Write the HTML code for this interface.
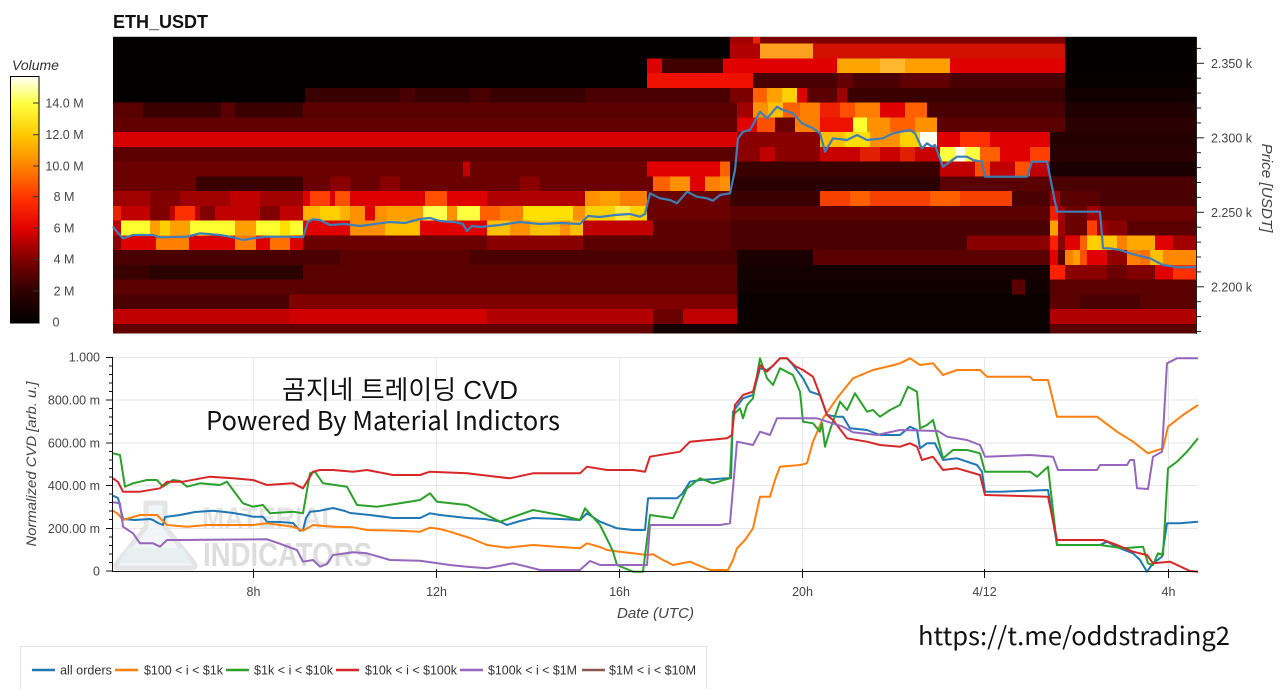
<!DOCTYPE html>
<html><head><meta charset="utf-8"><style>
html,body{margin:0;padding:0;background:#fff;}
svg{display:block;}
.t{font-family:"Liberation Sans",Arial,sans-serif;fill:#444;font-size:12.5px;}
.i{font-style:italic;}
</style></head><body>
<svg width="1280" height="689" viewBox="0 0 1280 689" xmlns="http://www.w3.org/2000/svg">
<defs>
<linearGradient id="cb" x1="0" y1="1" x2="0" y2="0">
<stop offset="0" stop-color="#000"/><stop offset="0.13" stop-color="#300000"/><stop offset="0.26" stop-color="#800000"/><stop offset="0.38" stop-color="#e00000"/><stop offset="0.5" stop-color="#ff3000"/><stop offset="0.63" stop-color="#ff8000"/><stop offset="0.76" stop-color="#ffc800"/><stop offset="0.89" stop-color="#ffff40"/><stop offset="1" stop-color="#fffff8"/>
</linearGradient>
</defs>
<rect width="1280" height="689" fill="#fff"/>
<text x="113" y="28" style="font-family:'Liberation Sans',Arial,sans-serif;font-weight:bold;font-size:18px;fill:#111">ETH_USDT</text>

<!-- colorbar -->
<text x="12" y="70" class="t i" style="font-size:14px;fill:#333">Volume</text>
<rect x="10.5" y="76.5" width="28.5" height="246.5" fill="url(#cb)" stroke="#000" stroke-width="1"/>
<g stroke="#333" stroke-width="1">
<line x1="33" y1="103" x2="39" y2="103"/><line x1="33" y1="134.7" x2="39" y2="134.7"/><line x1="33" y1="166" x2="39" y2="166"/><line x1="33" y1="196.7" x2="39" y2="196.7"/><line x1="33" y1="228" x2="39" y2="228"/><line x1="33" y1="259.3" x2="39" y2="259.3"/><line x1="33" y1="291" x2="39" y2="291"/>
</g>
<g class="t" text-anchor="middle">
<text x="64.5" y="107.5">14.0 M</text><text x="64.5" y="139">12.0 M</text><text x="64.5" y="170.5">10.0 M</text><text x="64" y="201">8 M</text><text x="64" y="232.5">6 M</text><text x="64" y="263.5">4 M</text><text x="64" y="295.5">2 M</text><text x="56" y="326.5">0</text>
</g>

<!-- heatmap -->
<g shape-rendering="crispEdges">
<rect x="113" y="37" width="1083" height="296.5" fill="#4a0000"/>
<rect x="113" y="37" width="617" height="7" fill="#050000"/><rect x="730" y="37" width="23" height="7" fill="#a00000"/><rect x="753" y="37" width="7" height="7" fill="#ee2000"/><rect x="760" y="37" width="305" height="7" fill="#7a0000"/><rect x="1065" y="37" width="131" height="7" fill="#050000"/>
<rect x="113" y="43.7" width="617" height="15.2" fill="#050000"/><rect x="730" y="43.7" width="30" height="15.2" fill="#b00000"/><rect x="760" y="43.7" width="53" height="15.2" fill="#ffa020"/><rect x="813" y="43.7" width="252" height="15.2" fill="#d01000"/><rect x="1065" y="43.7" width="131" height="15.2" fill="#050000"/>
<rect x="113" y="58.5" width="534" height="15.1" fill="#050000"/><rect x="647" y="58.5" width="15" height="15.1" fill="#dd0000"/><rect x="662" y="58.5" width="61" height="15.1" fill="#400000"/><rect x="723" y="58.5" width="114" height="15.1" fill="#e00000"/><rect x="837" y="58.5" width="43" height="15.1" fill="#ffa500"/><rect x="880" y="58.5" width="25" height="15.1" fill="#ffb830"/><rect x="905" y="58.5" width="45" height="15.1" fill="#ffa000"/><rect x="950" y="58.5" width="115" height="15.1" fill="#e00000"/><rect x="1065" y="58.5" width="131" height="15.1" fill="#050000"/>
<rect x="113" y="73.2" width="534" height="15.2" fill="#050000"/><rect x="647" y="73.2" width="106" height="15.2" fill="#f01000"/><rect x="753" y="73.2" width="84" height="15.2" fill="#4a0000"/><rect x="837" y="73.2" width="16" height="15.2" fill="#650000"/><rect x="853" y="73.2" width="47" height="15.2" fill="#4a0000"/><rect x="900" y="73.2" width="50" height="15.2" fill="#600000"/><rect x="950" y="73.2" width="115" height="15.2" fill="#4a0000"/><rect x="1065" y="73.2" width="131" height="15.2" fill="#080000"/>
<rect x="113" y="88" width="192" height="15.1" fill="#050000"/><rect x="305" y="88" width="280" height="15.1" fill="#380000"/><rect x="400" y="88" width="15" height="15.1" fill="#4a0000"/><rect x="470" y="88" width="20" height="15.1" fill="#4a0000"/><rect x="585" y="88" width="145" height="15.1" fill="#4a0000"/><rect x="730" y="88" width="23" height="15.1" fill="#7a0000"/><rect x="753" y="88" width="14" height="15.1" fill="#ff6000"/><rect x="767" y="88" width="15" height="15.1" fill="#ffa000"/><rect x="782" y="88" width="15" height="15.1" fill="#ffd000"/><rect x="797" y="88" width="10" height="15.1" fill="#e00000"/><rect x="807" y="88" width="30" height="15.1" fill="#5a0000"/><rect x="837" y="88" width="10" height="15.1" fill="#a00000"/><rect x="847" y="88" width="218" height="15.1" fill="#3a0000"/><rect x="1065" y="88" width="131" height="15.1" fill="#120000"/>
<rect x="113" y="102.7" width="30" height="15.2" fill="#5a0000"/><rect x="143" y="102.7" width="78" height="15.2" fill="#3a0000"/><rect x="221" y="102.7" width="14" height="15.2" fill="#5a0000"/><rect x="235" y="102.7" width="68" height="15.2" fill="#3a0000"/><rect x="303" y="102.7" width="434" height="15.2" fill="#5a0000"/><rect x="737" y="102.7" width="16" height="15.2" fill="#a00000"/><rect x="753" y="102.7" width="15" height="15.2" fill="#ff9000"/><rect x="768" y="102.7" width="15" height="15.2" fill="#ffc000"/><rect x="783" y="102.7" width="17" height="15.2" fill="#ff6000"/><rect x="800" y="102.7" width="20" height="15.2" fill="#ff8000"/><rect x="820" y="102.7" width="20" height="15.2" fill="#ee2000"/><rect x="840" y="102.7" width="15" height="15.2" fill="#ff5000"/><rect x="855" y="102.7" width="25" height="15.2" fill="#ff8000"/><rect x="880" y="102.7" width="25" height="15.2" fill="#e00000"/><rect x="905" y="102.7" width="22" height="15.2" fill="#ff6000"/><rect x="927" y="102.7" width="138" height="15.2" fill="#4a0000"/><rect x="1065" y="102.7" width="131" height="15.2" fill="#200000"/>
<rect x="113" y="117.5" width="624" height="15.1" fill="#600000"/><rect x="737" y="117.5" width="20" height="15.1" fill="#e00000"/><rect x="757" y="117.5" width="18" height="15.1" fill="#ff5000"/><rect x="775" y="117.5" width="20" height="15.1" fill="#6a0000"/><rect x="795" y="117.5" width="25" height="15.1" fill="#ff8000"/><rect x="820" y="117.5" width="33" height="15.1" fill="#ee1000"/><rect x="853" y="117.5" width="14" height="15.1" fill="#ffff30"/><rect x="867" y="117.5" width="23" height="15.1" fill="#ff9000"/><rect x="890" y="117.5" width="25" height="15.1" fill="#ff6000"/><rect x="915" y="117.5" width="22" height="15.1" fill="#ff9000"/><rect x="937" y="117.5" width="128" height="15.1" fill="#5a0000"/><rect x="1065" y="117.5" width="131" height="15.1" fill="#2a0000"/>
<rect x="113" y="132.2" width="624" height="15.2" fill="#d80000"/><rect x="737" y="132.2" width="83" height="15.2" fill="#8a0000"/><rect x="820" y="132.2" width="25" height="15.2" fill="#ffc000"/><rect x="845" y="132.2" width="25" height="15.2" fill="#ffe000"/><rect x="870" y="132.2" width="30" height="15.2" fill="#ff9000"/><rect x="900" y="132.2" width="20" height="15.2" fill="#ffd000"/><rect x="920" y="132.2" width="17" height="15.2" fill="#fffff0"/><rect x="937" y="132.2" width="23" height="15.2" fill="#e00000"/><rect x="960" y="132.2" width="30" height="15.2" fill="#ff3000"/><rect x="990" y="132.2" width="60" height="15.2" fill="#e00000"/><rect x="1050" y="132.2" width="146" height="15.2" fill="#250000"/>
<rect x="113" y="147" width="624" height="15.1" fill="#5a0000"/><rect x="737" y="147" width="83" height="15.1" fill="#8a0000"/><rect x="760" y="147" width="15" height="15.1" fill="#c00000"/><rect x="820" y="147" width="120" height="15.1" fill="#c80000"/><rect x="860" y="147" width="20" height="15.1" fill="#e02000"/><rect x="900" y="147" width="15" height="15.1" fill="#e02000"/><rect x="940" y="147" width="15" height="15.1" fill="#ffff40"/><rect x="955" y="147" width="10" height="15.1" fill="#fffff0"/><rect x="965" y="147" width="15" height="15.1" fill="#ffff40"/><rect x="980" y="147" width="20" height="15.1" fill="#ff6000"/><rect x="1000" y="147" width="30" height="15.1" fill="#e00000"/><rect x="1030" y="147" width="20" height="15.1" fill="#ff4000"/><rect x="1050" y="147" width="146" height="15.1" fill="#2a0000"/>
<rect x="113" y="161.7" width="534" height="15.2" fill="#6a0000"/><rect x="463" y="161.7" width="7" height="15.2" fill="#c00000"/><rect x="647" y="161.7" width="73" height="15.2" fill="#e00000"/><rect x="720" y="161.7" width="10" height="15.2" fill="#ff6000"/><rect x="730" y="161.7" width="210" height="15.2" fill="#3a0000"/><rect x="940" y="161.7" width="110" height="15.2" fill="#c00000"/><rect x="975" y="161.7" width="15" height="15.2" fill="#ff5000"/><rect x="1015" y="161.7" width="15" height="15.2" fill="#ff5000"/><rect x="1050" y="161.7" width="146" height="15.2" fill="#1a0000"/>
<rect x="113" y="176.5" width="83" height="15.1" fill="#6a0000"/><rect x="196" y="176.5" width="107" height="15.1" fill="#3a0000"/><rect x="303" y="176.5" width="350" height="15.1" fill="#6a0000"/><rect x="330" y="176.5" width="20" height="15.1" fill="#8a0000"/><rect x="380" y="176.5" width="20" height="15.1" fill="#8a0000"/><rect x="520" y="176.5" width="20" height="15.1" fill="#8a0000"/><rect x="653" y="176.5" width="17" height="15.1" fill="#ff6000"/><rect x="670" y="176.5" width="20" height="15.1" fill="#ff9000"/><rect x="690" y="176.5" width="15" height="15.1" fill="#e00000"/><rect x="705" y="176.5" width="15" height="15.1" fill="#ff8000"/><rect x="720" y="176.5" width="10" height="15.1" fill="#ff9000"/><rect x="730" y="176.5" width="210" height="15.1" fill="#2a0000"/><rect x="940" y="176.5" width="110" height="15.1" fill="#5a0000"/><rect x="1050" y="176.5" width="146" height="15.1" fill="#4a0000"/>
<!-- R11 -->
<rect x="113" y="191.2" width="190" height="15.2" fill="#a00000"/><rect x="150" y="191.2" width="30" height="15.2" fill="#800000"/><rect x="230" y="191.2" width="30" height="15.2" fill="#c00000"/><rect x="303" y="191.2" width="122" height="15.2" fill="#dd0000"/><rect x="310" y="191.2" width="20" height="15.2" fill="#ff4000"/><rect x="335" y="191.2" width="15" height="15.2" fill="#ff5000"/><rect x="425" y="191.2" width="22" height="15.2" fill="#ff5000"/><rect x="447" y="191.2" width="40" height="15.2" fill="#e00000"/><rect x="487" y="191.2" width="98" height="15.2" fill="#b00000"/><rect x="585" y="191.2" width="15" height="15.2" fill="#ff9000"/><rect x="600" y="191.2" width="20" height="15.2" fill="#ffa000"/><rect x="620" y="191.2" width="27" height="15.2" fill="#ff8000"/><rect x="647" y="191.2" width="83" height="15.2" fill="#6a0000"/><rect x="730" y="191.2" width="90" height="15.2" fill="#3a0000"/><rect x="820" y="191.2" width="192" height="15.2" fill="#f54000"/><rect x="850" y="191.2" width="20" height="15.2" fill="#ff6000"/><rect x="930" y="191.2" width="30" height="15.2" fill="#ff6000"/><rect x="1012" y="191.2" width="38" height="15.2" fill="#4a0000"/><rect x="1050" y="191.2" width="10" height="15.2" fill="#a00000"/><rect x="1060" y="191.2" width="40" height="15.2" fill="#5a0000"/><rect x="1100" y="191.2" width="96" height="15.2" fill="#4a0000"/>
<!-- R12 -->
<rect x="113" y="206" width="8" height="15.1" fill="#ee2000"/><rect x="121" y="206" width="182" height="15.1" fill="#c00000"/><rect x="150" y="206" width="20" height="15.1" fill="#800000"/><rect x="175" y="206" width="20" height="15.1" fill="#ff3000"/><rect x="200" y="206" width="15" height="15.1" fill="#800000"/><rect x="260" y="206" width="20" height="15.1" fill="#800000"/><rect x="303" y="206" width="17" height="15.1" fill="#ffb000"/><rect x="320" y="206" width="20" height="15.1" fill="#ffd000"/><rect x="340" y="206" width="10" height="15.1" fill="#ffb000"/><rect x="350" y="206" width="37" height="15.1" fill="#ff9000"/><rect x="365" y="206" width="10" height="15.1" fill="#e00000"/><rect x="387" y="206" width="36" height="15.1" fill="#ffa000"/><rect x="423" y="206" width="24" height="15.1" fill="#ffff50"/><rect x="447" y="206" width="10" height="15.1" fill="#ff9000"/><rect x="457" y="206" width="23" height="15.1" fill="#ffff40"/><rect x="480" y="206" width="20" height="15.1" fill="#ff6000"/><rect x="500" y="206" width="23" height="15.1" fill="#ff8000"/><rect x="523" y="206" width="50" height="15.1" fill="#ffe000"/><rect x="573" y="206" width="12" height="15.1" fill="#ff9000"/><rect x="585" y="206" width="62" height="15.1" fill="#ffd000"/><rect x="615" y="206" width="15" height="15.1" fill="#ffe840"/><rect x="647" y="206" width="83" height="15.1" fill="#6a0000"/><rect x="730" y="206" width="320" height="15.1" fill="#5a0000"/><rect x="1050" y="206" width="8" height="15.1" fill="#ee2000"/><rect x="1058" y="206" width="7" height="15.1" fill="#a00000"/><rect x="1065" y="206" width="22" height="15.1" fill="#6a0000"/><rect x="1087" y="206" width="13" height="15.1" fill="#a00000"/><rect x="1100" y="206" width="96" height="15.1" fill="#700000"/>
<!-- R13 -->
<rect x="113" y="220.7" width="8" height="15.2" fill="#c00000"/><rect x="121" y="220.7" width="29" height="15.2" fill="#ffff30"/><rect x="150" y="220.7" width="40" height="15.2" fill="#ffa000"/><rect x="160" y="220.7" width="10" height="15.2" fill="#ffd000"/><rect x="190" y="220.7" width="45" height="15.2" fill="#ffff30"/><rect x="235" y="220.7" width="21" height="15.2" fill="#ffa000"/><rect x="256" y="220.7" width="47" height="15.2" fill="#ffff30"/><rect x="280" y="220.7" width="10" height="15.2" fill="#ffe000"/><rect x="303" y="220.7" width="47" height="15.2" fill="#e00000"/><rect x="350" y="220.7" width="35" height="15.2" fill="#ff9000"/><rect x="385" y="220.7" width="35" height="15.2" fill="#ffc000"/><rect x="420" y="220.7" width="67" height="15.2" fill="#e00000"/><rect x="487" y="220.7" width="96" height="15.2" fill="#ffc000"/><rect x="510" y="220.7" width="20" height="15.2" fill="#ff9000"/><rect x="560" y="220.7" width="10" height="15.2" fill="#ff9000"/><rect x="583" y="220.7" width="70" height="15.2" fill="#c00000"/><rect x="653" y="220.7" width="77" height="15.2" fill="#5a0000"/><rect x="730" y="220.7" width="320" height="15.2" fill="#4a0000"/><rect x="1050" y="220.7" width="8" height="15.2" fill="#ffa000"/><rect x="1058" y="220.7" width="7" height="15.2" fill="#a00000"/><rect x="1065" y="220.7" width="22" height="15.2" fill="#6a0000"/><rect x="1087" y="220.7" width="10" height="15.2" fill="#ff4000"/><rect x="1097" y="220.7" width="10" height="15.2" fill="#a00000"/><rect x="1107" y="220.7" width="20" height="15.2" fill="#8a0000"/><rect x="1127" y="220.7" width="69" height="15.2" fill="#5a0000"/>
<!-- R14 -->
<rect x="113" y="235.5" width="8" height="15.1" fill="#8a0000"/><rect x="121" y="235.5" width="35" height="15.1" fill="#dd0000"/><rect x="156" y="235.5" width="33" height="15.1" fill="#ff8000"/><rect x="189" y="235.5" width="46" height="15.1" fill="#dd0000"/><rect x="235" y="235.5" width="21" height="15.1" fill="#ff8000"/><rect x="256" y="235.5" width="14" height="15.1" fill="#dd0000"/><rect x="270" y="235.5" width="20" height="15.1" fill="#ff7000"/><rect x="290" y="235.5" width="13" height="15.1" fill="#dd0000"/><rect x="303" y="235.5" width="184" height="15.1" fill="#6a0000"/><rect x="487" y="235.5" width="96" height="15.1" fill="#8a0000"/><rect x="583" y="235.5" width="147" height="15.1" fill="#5a0000"/><rect x="730" y="235.5" width="237" height="15.1" fill="#4a0000"/><rect x="967" y="235.5" width="83" height="15.1" fill="#8a0000"/><rect x="1050" y="235.5" width="8" height="15.1" fill="#ff2000"/><rect x="1058" y="235.5" width="7" height="15.1" fill="#8a0000"/><rect x="1065" y="235.5" width="15" height="15.1" fill="#e00000"/><rect x="1080" y="235.5" width="7" height="15.1" fill="#ff6000"/><rect x="1087" y="235.5" width="13" height="15.1" fill="#ffd000"/><rect x="1100" y="235.5" width="17" height="15.1" fill="#ffc800"/><rect x="1117" y="235.5" width="10" height="15.1" fill="#ff8000"/><rect x="1127" y="235.5" width="28" height="15.1" fill="#ffa800"/><rect x="1155" y="235.5" width="18" height="15.1" fill="#e00000"/><rect x="1173" y="235.5" width="23" height="15.1" fill="#a00000"/>
<!-- R15 -->
<rect x="113" y="250.2" width="624" height="15.2" fill="#4a0000"/><rect x="340" y="250.2" width="130" height="15.2" fill="#5a0000"/><rect x="737" y="250.2" width="76" height="15.2" fill="#1a0000"/><rect x="813" y="250.2" width="237" height="15.2" fill="#5a0000"/><rect x="1050" y="250.2" width="8" height="15.2" fill="#e00000"/><rect x="1058" y="250.2" width="7" height="15.2" fill="#5a0000"/><rect x="1065" y="250.2" width="8" height="15.2" fill="#ff8000"/><rect x="1073" y="250.2" width="7" height="15.2" fill="#ffa000"/><rect x="1080" y="250.2" width="7" height="15.2" fill="#ff5000"/><rect x="1087" y="250.2" width="20" height="15.2" fill="#e00000"/><rect x="1107" y="250.2" width="20" height="15.2" fill="#900000"/><rect x="1127" y="250.2" width="13" height="15.2" fill="#ff8000"/><rect x="1140" y="250.2" width="10" height="15.2" fill="#ff7000"/><rect x="1150" y="250.2" width="13" height="15.2" fill="#ffc000"/><rect x="1163" y="250.2" width="33" height="15.2" fill="#ff8800"/>
<!-- R16 -->
<rect x="113" y="265" width="37" height="15.1" fill="#3a0000"/><rect x="150" y="265" width="153" height="15.1" fill="#2a0000"/><rect x="303" y="265" width="434" height="15.1" fill="#5a0000"/><rect x="737" y="265" width="313" height="15.1" fill="#150000"/><rect x="1050" y="265" width="15" height="15.1" fill="#ff2000"/><rect x="1065" y="265" width="42" height="15.1" fill="#8a0000"/><rect x="1107" y="265" width="20" height="15.1" fill="#6a0000"/><rect x="1127" y="265" width="28" height="15.1" fill="#800000"/><rect x="1155" y="265" width="18" height="15.1" fill="#e00000"/><rect x="1173" y="265" width="23" height="15.1" fill="#ff3000"/>
<!-- R17 -->
<rect x="113" y="279.7" width="624" height="15.2" fill="#5a0000"/><rect x="737" y="279.7" width="275" height="15.2" fill="#100000"/><rect x="1012" y="279.7" width="13" height="15.2" fill="#5a0000"/><rect x="1025" y="279.7" width="25" height="15.2" fill="#100000"/><rect x="1050" y="279.7" width="146" height="15.2" fill="#5a0000"/>
<!-- R18 -->
<rect x="113" y="294.5" width="176" height="15.1" fill="#4a0000"/><rect x="289" y="294.5" width="448" height="15.1" fill="#800000"/><rect x="737" y="294.5" width="313" height="15.1" fill="#0a0000"/><rect x="1050" y="294.5" width="146" height="15.1" fill="#5a0000"/><rect x="1080" y="294.5" width="60" height="15.1" fill="#4a0000"/>
<!-- R19 -->
<rect x="113" y="309.2" width="176" height="15.2" fill="#c00000"/><rect x="289" y="309.2" width="198" height="15.2" fill="#d00000"/><rect x="487" y="309.2" width="166" height="15.2" fill="#b00000"/><rect x="653" y="309.2" width="30" height="15.2" fill="#6a0000"/><rect x="683" y="309.2" width="54" height="15.2" fill="#c00000"/><rect x="737" y="309.2" width="313" height="15.2" fill="#0a0000"/><rect x="1050" y="309.2" width="146" height="15.2" fill="#b00000"/>
<!-- R20 -->
<rect x="113" y="324" width="540" height="9.5" fill="#600000"/><rect x="653" y="324" width="84" height="9.5" fill="#150000"/><rect x="737" y="324" width="313" height="9.5" fill="#0a0000"/><rect x="1050" y="324" width="146" height="9.5" fill="#5a0000"/>
</g>
<line x1="113" y1="36.5" x2="1196" y2="36.5" stroke="#ccc" stroke-width="1"/>
<polyline fill="none" stroke="#3f7fb8" stroke-width="2.2" stroke-linejoin="round" points="113,226.7 118,233 123,238.3 133,235 153,235 160,237.3 187,236.7 200,233.3 220,235 233,237.3 243,240 255,238 267,236.7 287,236.7 303,237.3 308,221.7 313,219.3 320,220 330,225 345,224 360,226 375,224 390,222 405,223 420,219 430,218 440,221 455,222 463,224 467,231 472,226 480,227 500,225 520,222 540,224 560,223 580,224 588,216 600,217 615,215 630,214 640,216.7 645,214 650,193.3 660,198.3 670,200 677,203.3 687,191.7 697,196.7 707,198.3 713,200.7 720,195 730,193.3 735,170 738,138.3 743,131.7 750,130 760,111.7 767,118.3 777,106.7 783,110 793,113.3 802,123.3 813,128.3 820,133.3 825,151.7 833,138.3 847,140 857,135 867,140 883,138.3 893,133.3 910,130 915,133.3 922,148.3 927,143.3 932,146.7 935,145 943,166.7 950,161.7 957,156.7 967,156.7 973,160 982,161.7 985,176.7 1027,176.7 1032,161.7 1047,161.7 1057,211.7 1100,211.7 1103,248.3 1110,248.3 1120,250 1130,253.3 1140,256 1150,258.3 1157,262 1163,265 1170,266 1177,267.3 1196,267.3"/>

<!-- right price axis -->
<line x1="1196.5" y1="37" x2="1196.5" y2="334" stroke="#222" stroke-width="1"/>
<g stroke="#222" stroke-width="1">
<line x1="1196" y1="48.4" x2="1201" y2="48.4"/><line x1="1196" y1="63.3" x2="1204" y2="63.3"/><line x1="1196" y1="78.2" x2="1201" y2="78.2"/><line x1="1196" y1="93.1" x2="1201" y2="93.1"/><line x1="1196" y1="108" x2="1201" y2="108"/><line x1="1196" y1="122.9" x2="1201" y2="122.9"/><line x1="1196" y1="137.8" x2="1204" y2="137.8"/><line x1="1196" y1="152.7" x2="1201" y2="152.7"/><line x1="1196" y1="167.6" x2="1201" y2="167.6"/><line x1="1196" y1="182.5" x2="1201" y2="182.5"/><line x1="1196" y1="197.4" x2="1201" y2="197.4"/><line x1="1196" y1="212.3" x2="1204" y2="212.3"/><line x1="1196" y1="227.2" x2="1201" y2="227.2"/><line x1="1196" y1="242.1" x2="1201" y2="242.1"/><line x1="1196" y1="257" x2="1201" y2="257"/><line x1="1196" y1="271.9" x2="1201" y2="271.9"/><line x1="1196" y1="286.8" x2="1204" y2="286.8"/><line x1="1196" y1="301.7" x2="1201" y2="301.7"/><line x1="1196" y1="316.6" x2="1201" y2="316.6"/><line x1="1196" y1="331.5" x2="1201" y2="331.5"/>
</g>
<g class="t">
<text x="1211" y="67.8">2.350 k</text><text x="1211" y="142.3">2.300 k</text><text x="1211" y="216.8">2.250 k</text><text x="1211" y="291.3">2.200 k</text>
</g>
<text class="t i" transform="translate(1262,188) rotate(90)" text-anchor="middle" style="font-size:15px" textLength="89" lengthAdjust="spacingAndGlyphs">Price [USDT]</text>

<!-- CVD chart grid -->
<g stroke="#e6e6e6" stroke-width="1">
<line x1="113" y1="357.5" x2="1198" y2="357.5"/><line x1="113" y1="400" x2="1198" y2="400"/><line x1="113" y1="443" x2="1198" y2="443"/><line x1="113" y1="485.5" x2="1198" y2="485.5"/><line x1="113" y1="528.5" x2="1198" y2="528.5"/>
<line x1="253.5" y1="357" x2="253.5" y2="571"/><line x1="436.5" y1="357" x2="436.5" y2="571"/><line x1="619.5" y1="357" x2="619.5" y2="571"/><line x1="802.5" y1="357" x2="802.5" y2="571"/><line x1="984.5" y1="357" x2="984.5" y2="571"/><line x1="1168.5" y1="357" x2="1168.5" y2="571"/>
</g>

<!-- watermark -->
<g opacity="0.9">
<path d="M146,503 L165,503 L165,527 L194,563 Q197,568 191,568 L120,568 Q114,568 117,563 L146,527 Z" fill="#f1f4f4" stroke="#e3e3e3" stroke-width="5" stroke-linejoin="round"/>
<path d="M128,548 L183,548 L192,563 L119,563 Z" fill="#e5eeee"/>
<text x="202" y="528" style="font-family:'Liberation Sans',Arial,sans-serif;font-weight:bold;font-size:30px;fill:#e2e2e2" textLength="136" lengthAdjust="spacingAndGlyphs">MATERIAL</text>
<text x="203" y="566" style="font-family:'Liberation Sans',Arial,sans-serif;font-weight:bold;font-size:33px;fill:#dadada" textLength="169" lengthAdjust="spacingAndGlyphs">INDICATORS</text>
</g>

<!-- overlay text -->
<text x="282" y="399" style="font-family:'Liberation Sans','Noto Sans CJK KR',sans-serif;font-size:26px;fill:#111" textLength="236" lengthAdjust="spacingAndGlyphs">곰지네 트레이딩 CVD</text>
<text x="206" y="430" style="font-family:'Noto Sans CJK KR','Liberation Sans',sans-serif;font-size:26px;fill:#111" textLength="354" lengthAdjust="spacingAndGlyphs">Powered By Material Indictors</text>

<!-- CVD lines -->
<g fill="none" stroke-width="2" stroke-linejoin="round">
<polyline stroke="#1f77b4" points="113,495.7 118,498 123,519 135,520 150,519 153,520 158,523 163,525 165,517 180,515 195,512 213,510.7 225,512 233,513 245,515 253,516.7 263,516.7 267,521.7 280,522 293,523 300,530.7 303,530 306,518 310,511.7 320,510.7 333,508 345,511 350,513 370,515 393,518 420,518 430,513.3 440,515 467,518 485,519 500,521.7 507,525 520,521 533,518 560,519 580,520 587,513.3 600,521.7 617,528.3 633,530 645,530 648,498.3 677,498.3 682,494 690,481.7 700,480 727,478.3 731,478 733,411.7 738,405 743,398.3 753,395 760,368.3 767,370 773,366 780,358.3 787,358.3 793,365 803,378.3 810,391.7 820,395 827,415 837,416.7 843,416.7 850,428.3 867,430 880,435 900,435 910,426.7 917,430 920,448.3 927,443.3 935,443.3 943,460 957,458.3 977,465 982,471.7 985,491.7 1000,491.7 1048,490 1057,545 1100,545 1107,541.7 1120,548.3 1133,553.3 1140,560 1147,571.7 1153,563.3 1162,556.7 1167,523.3 1180,523.3 1198,521.7"/>
<polyline stroke="#ff7f0e" points="113,510.7 118,514 123,520 140,515 157,515 162,520 167,525 187,526.7 207,525 253,525 267,523.3 293,526.7 303,530.7 313,525 333,526.7 353,527.3 367,530 400,530.7 420,531.7 430,527.7 440,529 450,531.7 470,538 487,545 507,547.7 533,545 560,547 580,548.3 587,543.3 600,547 607,550 620,551.7 647,555 653,554.3 663,560 673,565 690,561.7 700,566 710,570 728,570 733,560 737,548.3 745,540 753,528.3 760,496.7 770,496.7 775,480 780,466.7 800,465 807,463.3 813,441.7 823,418.3 837,398.3 853,378.3 873,370 890,366 900,363.3 910,358.3 920,365 933,363.3 943,375 957,370 980,370 987,376.7 1030,376.7 1033,380 1048,380 1057,416.7 1097,416.7 1117,431.7 1133,441.7 1148,453.3 1155,451 1163,448.3 1168,426.7 1183,415 1198,405"/>
<polyline stroke="#2ca02c" points="113,453.3 120,455 125,486.7 133,483.3 147,480 157,480 163,486.7 173,480 180,481 187,486.7 200,483.3 220,485 227,481.7 233,490 243,503.3 253,506.7 263,505 270,513.3 293,511.7 303,513.3 310,473.3 315,471.7 323,483.3 347,486.7 357,505 377,506.7 400,503.3 420,500 430,493.3 437,501.7 467,505 500,521.7 533,510 560,515 580,520 585,508.3 600,525 610,545 613,551.7 617,565 633,571.7 643,571.7 650,515 673,518.3 687,488.3 700,478.3 713,483.3 730,478.3 733,415 740,408.3 743,418.3 747,405 753,398.3 760,358.3 767,378.3 773,385 780,368.3 793,375 800,391.7 803,421.7 813,423.3 820,431.7 822,423.3 825,446.7 830,430 840,401.7 847,410 855,393.3 867,411.7 873,410 880,416.7 890,410 900,405 908,386.7 917,391.7 920,428.3 927,425 933,420 943,458.3 953,450 967,450 980,453.3 985,471.7 1030,471.7 1037,476.7 1048,466.7 1057,545 1100,545 1123,548.3 1143,546.7 1148,563.3 1153,565 1158,553.3 1163,555 1168,468.3 1177,461.7 1187,451.7 1198,438.3"/>
<polyline stroke="#d62728" points="113,478.3 118,482 123,491.7 140,491.7 160,488.3 167,481.7 183,481.7 210,476.7 233,478.3 253,480 267,485 293,483.3 303,488.3 313,471.7 320,470 333,470 353,471.7 367,470 393,475 420,475 430,471.7 467,473.3 490,476 510,478.3 533,473.3 580,473.3 587,466.7 607,470 633,470 645,471.7 650,456.7 680,451.7 690,441.7 727,438.3 732,435 735,405 743,395 753,391.7 760,365 767,371.7 780,358.3 787,358.3 795,366 803,370 813,376.7 820,395 827,415 833,420 847,438.3 867,441.7 880,445 900,446.7 910,443.3 917,446.7 922,460 933,456.7 943,470 957,468.3 980,475 985,495 1048,496.7 1057,540 1103,540 1117,545 1133,551.7 1147,555 1153,563.3 1170,561.7 1190,571 1198,571.7"/>
<polyline stroke="#9467bd" points="113,502.3 120,503.3 123,526.7 133,533.3 140,543.3 153,543.3 160,546.7 167,540 180,540 267,539.3 277,542.7 297,550 303,561.7 313,560 320,566.7 327,564 333,555 353,552.3 367,553.3 390,560 420,560.7 450,565 467,566.7 487,568.3 513,563.3 527,566.7 540,570 580,570 590,561 600,565 647,565 650,525 720,525 730,523.3 737,441.7 753,445 760,431.7 770,435 777,418.3 817,418.3 843,426.7 853,432.3 877,435 900,430 938,431 947,436.7 967,440 980,445 985,456.7 1030,455 1053,456.7 1058,470 1097,470 1100,465 1127,465 1130,460 1134,460 1137,488.3 1148,489 1153,456.7 1162,451.7 1167,363.3 1177,358.3 1198,358.3"/>
</g>

<!-- CVD axes -->
<line x1="112.5" y1="357" x2="112.5" y2="571.5" stroke="#111" stroke-width="1"/>
<line x1="112" y1="571.5" x2="1198" y2="571.5" stroke="#111" stroke-width="1"/>
<g stroke="#111" stroke-width="1">
<line x1="106" y1="357.5" x2="113" y2="357.5"/><line x1="106" y1="400" x2="113" y2="400"/><line x1="106" y1="443" x2="113" y2="443"/><line x1="106" y1="485.5" x2="113" y2="485.5"/><line x1="106" y1="528.5" x2="113" y2="528.5"/><line x1="106" y1="571" x2="113" y2="571"/>
<line x1="109" y1="366" x2="113" y2="366"/><line x1="109" y1="374.5" x2="113" y2="374.5"/><line x1="109" y1="383" x2="113" y2="383"/><line x1="109" y1="391.5" x2="113" y2="391.5"/>
<line x1="109" y1="408.5" x2="113" y2="408.5"/><line x1="109" y1="417" x2="113" y2="417"/><line x1="109" y1="425.5" x2="113" y2="425.5"/><line x1="109" y1="434" x2="113" y2="434"/>
<line x1="109" y1="451.5" x2="113" y2="451.5"/><line x1="109" y1="460" x2="113" y2="460"/><line x1="109" y1="468.5" x2="113" y2="468.5"/><line x1="109" y1="477" x2="113" y2="477"/>
<line x1="109" y1="494" x2="113" y2="494"/><line x1="109" y1="502.5" x2="113" y2="502.5"/><line x1="109" y1="511" x2="113" y2="511"/><line x1="109" y1="519.5" x2="113" y2="519.5"/>
<line x1="109" y1="537" x2="113" y2="537"/><line x1="109" y1="545.5" x2="113" y2="545.5"/><line x1="109" y1="554" x2="113" y2="554"/><line x1="109" y1="562.5" x2="113" y2="562.5"/>
<line x1="253.5" y1="569" x2="253.5" y2="578"/><line x1="436.5" y1="569" x2="436.5" y2="578"/><line x1="619.5" y1="569" x2="619.5" y2="578"/><line x1="802.5" y1="569" x2="802.5" y2="578"/><line x1="984.5" y1="569" x2="984.5" y2="578"/><line x1="1168.5" y1="569" x2="1168.5" y2="578"/>
</g>
<g class="t" text-anchor="end">
<text x="100" y="361.5">1.000</text><text x="100" y="404.5">800.00 m</text><text x="100" y="447.5">600.00 m</text><text x="100" y="490">400.00 m</text><text x="100" y="533">200.00 m</text><text x="100" y="575.5">0</text>
</g>
<g class="t" text-anchor="middle">
<text x="253.5" y="596">8h</text><text x="436.5" y="596">12h</text><text x="619.5" y="596">16h</text><text x="802.5" y="596">20h</text><text x="984.5" y="596">4/12</text><text x="1168.5" y="596">4h</text>
</g>
<text class="t i" x="655.5" y="618" text-anchor="middle" style="font-size:15px" textLength="77" lengthAdjust="spacingAndGlyphs">Date (UTC)</text>
<text class="t i" transform="translate(36,464) rotate(-90)" text-anchor="middle" style="font-size:14px" textLength="165" lengthAdjust="spacingAndGlyphs">Normalized CVD [arb. u.]</text>

<!-- URL -->
<text x="918" y="645" style="font-family:'Noto Sans CJK KR','Liberation Sans',sans-serif;font-size:25px;fill:#111" textLength="312" lengthAdjust="spacingAndGlyphs">https://t.me/oddstrading2</text>

<!-- legend -->
<rect x="20.5" y="646.5" width="686" height="52" fill="#fff" stroke="#e5e5e5" stroke-width="1"/>
<g stroke-width="2.5">
<line x1="32" y1="670" x2="55" y2="670" stroke="#1f77b4"/><line x1="115" y1="670" x2="138" y2="670" stroke="#ff7f0e"/><line x1="226" y1="670" x2="249" y2="670" stroke="#2ca02c"/><line x1="336" y1="670" x2="359" y2="670" stroke="#d62728"/><line x1="460" y1="670" x2="483" y2="670" stroke="#9467bd"/><line x1="582" y1="670" x2="605" y2="670" stroke="#8c564b"/>
</g>
<g class="t" style="font-size:13px;fill:#333">
<text x="60" y="674.5" textLength="52" lengthAdjust="spacingAndGlyphs">all orders</text>
<text x="144" y="674.5" textLength="79" lengthAdjust="spacingAndGlyphs">$100 &lt; i &lt; $1k</text>
<text x="254" y="674.5" textLength="79" lengthAdjust="spacingAndGlyphs">$1k &lt; i &lt; $10k</text>
<text x="365" y="674.5" textLength="92" lengthAdjust="spacingAndGlyphs">$10k &lt; i &lt; $100k</text>
<text x="488" y="674.5" textLength="89" lengthAdjust="spacingAndGlyphs">$100k &lt; i &lt; $1M</text>
<text x="609" y="674.5" textLength="87" lengthAdjust="spacingAndGlyphs">$1M &lt; i &lt; $10M</text>
</g>
</svg>
</body></html>
